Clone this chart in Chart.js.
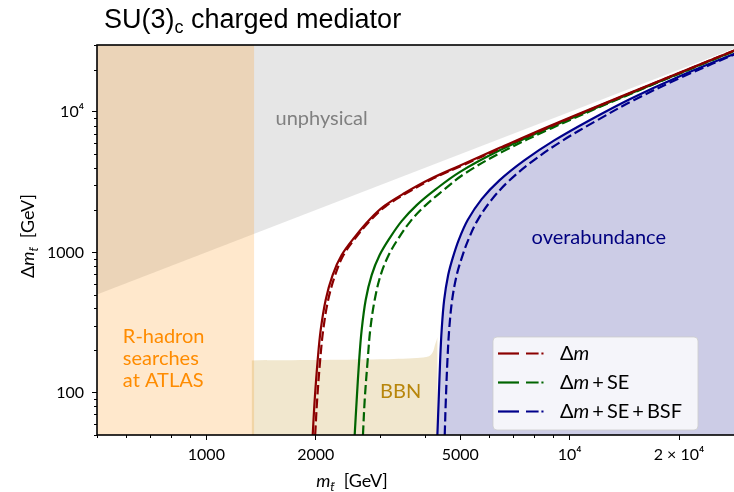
<!DOCTYPE html>
<html><head><meta charset="utf-8">
<script src="https://cdn.jsdelivr.net/npm/chart.js@4.4.0/dist/chart.umd.min.js"></script>
<style>html,body{margin:0;padding:0;overflow:hidden;background:#fff;}canvas{display:block;}</style>
</head><body>
<canvas id="c" width="748" height="492" style="width:748px;height:492px"></canvas>
<script>
// ---- axis ranges & ticks ----
const X_MIN = 500, X_MAX = 30000, Y_MIN = 50, Y_MAX = 30000;
const xMajorTicks = [1000, 2000, 5000, 10000, 20000];
const xMajorLabels = ['1000', '2000', '5000', '10⁴', '2 × 10⁴'];
const xMinorTicks = [500, 600, 700, 800, 900, 3000, 4000, 6000, 7000, 8000, 9000, 30000];
const yMajorTicks = [100, 1000, 10000];
const yMajorLabels = ['100', '1000', '10⁴'];
const yMinorTicks = [50, 60, 70, 80, 90, 200, 300, 400, 500, 600, 700, 800, 900,
  2000, 3000, 4000, 5000, 6000, 7000, 8000, 9000, 20000, 30000];

// ---- curves (m in GeV, Δm in GeV) ----
const redSolidM  = [1962, 1987, 2025, 2064, 2130, 2226, 2357, 2560, 2815, 3096, 3515, 4119, 4980, 6418, 8810, 13730, 22790, 30000];
const redSolidDm = [50, 89, 171, 280, 458, 689, 957, 1285, 1715, 2149, 2647, 3314, 4141, 5553, 7952, 12790, 21780, 29070];
const redDashM   = [1993, 2018, 2057, 2097, 2164, 2262, 2385, 2585, 2835, 3116, 3537, 4145, 5011, 6458, 8865, 13730, 22790, 30000];
const redDashDm  = [50, 89, 171, 280, 458, 689, 957, 1285, 1700, 2130, 2620, 3290, 4110, 5520, 7900, 12700, 21740, 29020];

const greenSolidM  = [2560, 2593, 2634, 2676, 2745, 2851, 2999, 3196, 3448, 3793, 4250, 4980, 6418, 8810, 13730, 22790, 30000];
const greenSolidDm = [50, 89, 171, 280, 458, 689, 957, 1264, 1670, 2171, 2776, 3729, 5330, 7759, 12580, 21600, 28830];
const greenDashM   = [2698, 2728, 2780, 2825, 2906, 3018, 3176, 3382, 3650, 3990, 4443, 5140, 6540, 8925, 13730, 22790, 30000];
const greenDashDm  = [50, 89, 171, 280, 458, 689, 957, 1264, 1670, 2136, 2708, 3638, 5217, 7670, 12480, 21500, 28780];

const blueSolidM  = [4324, 4360, 4401, 4443, 4514, 4630, 4764, 4949, 5240, 5726, 6418, 7518, 9093, 11350, 14630, 20080, 30000];
const blueSolidDm = [50, 89, 171, 280, 458, 689, 910, 1223, 1698, 2395, 3270, 4540, 6299, 8742, 12340, 17980, 27540];
const blueDashM   = [4530, 4562, 4609, 4659, 4748, 4887, 5044, 5256, 5582, 6101, 6795, 7910, 9507, 11790, 15010, 20340, 30000];
const blueDashDm  = [50, 89, 171, 280, 458, 689, 910, 1223, 1698, 2375, 3217, 4466, 6197, 8600, 12140, 17690, 27310];

// ---- shaded regions ----
const unphysM = [500, 30000];
const unphysDm = [500, 30000];
const rhadM = [500, 1355];
const rhadDm = [30000, 30000];
const bbnM = [1332, 2000, 3000, 3800, 4100, 4200, 4260, 4330];
const bbnDm = [170, 171, 173, 177, 182, 195, 220, 250];

// ---- texts ----
const titleMain = 'SU(3)', titleSub = 'c', titleRest = ' charged mediator';
const legendLabels = ['Δm', 'Δm+SE', 'Δm+SE+BSF'];
const legendColors = ['#8b0000', '#006400', '#00008b'];

const pts = (xs, ys) => xs.map((v, i) => ({x: v, y: ys[i]}));
const lineDs = (label, xs, ys, color, dashed) => ({
  label, data: pts(xs, ys), showLine: true, borderColor: color, borderWidth: 2.2,
  borderDash: dashed ? [9.5, 4] : [], pointRadius: 0, fill: false, tension: 0.35
});
const fillDs = (label, xs, ys, color, fill, tension) => ({
  label, data: pts(xs, ys), showLine: true, borderColor: 'rgba(0,0,0,0)', borderWidth: 0,
  backgroundColor: color, pointRadius: 0, fill, tension: tension || 0
});

function drawSegs(ctx, segs, x, y) {
  let cx = x;
  segs.forEach(s => {
    ctx.font = s.font;
    ctx.fillText(s.t, cx + (s.padL || 0), y + (s.dy || 0));
    cx += ctx.measureText(s.t).width + (s.padL || 0) + (s.padR || 0);
  });
  return cx - x;
}
function segsWidth(ctx, segs) {
  let w = 0;
  segs.forEach(s => { ctx.font = s.font; w += ctx.measureText(s.t).width + (s.padL || 0) + (s.padR || 0); });
  return w;
}
function mathSegs(label, size) {
  const segs = [];
  const up = size + 'px Lato', it = 'italic ' + size + 'px Lato';
  for (const ch of label) {
    if (ch === 'm') segs.push({t: 'm', font: it});
    else if (ch === '+') segs.push({t: '+', font: up, padL: 3, padR: 3});
    else segs.push({t: ch, font: up});
  }
  return segs;
}

const decor = {
  id: 'decor',
  afterDatasetsDraw(chart) {
    const {ctx, scales: {x, y}} = chart;
    ctx.save();
    ctx.textBaseline = 'middle';
    ctx.font = '20px Lato';
    ctx.fillStyle = '#808080'; ctx.textAlign = 'left';
    ctx.fillText('unphysical', x.getPixelForValue(1550), y.getPixelForValue(9000));
    ctx.fillStyle = '#000080'; ctx.textAlign = 'center';
    ctx.fillText('overabundance', x.getPixelForValue(12030), y.getPixelForValue(1285));
    ctx.fillStyle = '#b8860b';
    ctx.fillText('BBN', x.getPixelForValue(3426), y.getPixelForValue(102));
    ctx.fillStyle = '#ff8c00'; ctx.textAlign = 'left';
    ctx.fillText('R-hadron', x.getPixelForValue(589), y.getPixelForValue(250));
    ctx.fillText('searches', x.getPixelForValue(589), y.getPixelForValue(174));
    ctx.fillText('at ATLAS', x.getPixelForValue(589), y.getPixelForValue(123));
    ctx.restore();
  },
  afterDraw(chart) {
    const {ctx, chartArea: a, scales: {x, y}} = chart;
    ctx.save();
    // minor ticks
    ctx.strokeStyle = '#000'; ctx.lineWidth = 1;
    xMinorTicks.forEach(v => {
      const p = Math.round(x.getPixelForValue(v)) + 0.5;
      ctx.beginPath(); ctx.moveTo(p, a.bottom); ctx.lineTo(p, a.bottom + 3); ctx.stroke();
    });
    yMinorTicks.forEach(v => {
      const p = Math.round(y.getPixelForValue(v)) + 0.5;
      ctx.beginPath(); ctx.moveTo(a.left - 3, p); ctx.lineTo(a.left, p); ctx.stroke();
    });
    // frame
    ctx.lineWidth = 1.6;
    ctx.strokeRect(a.left, a.top, a.right - a.left, a.bottom - a.top);

    // legend
    const lx = 493, ly = 337, lw = 205, lh = 93;
    ctx.beginPath();
    ctx.roundRect(lx, ly, lw, lh, 4);
    ctx.fillStyle = 'rgba(255,255,255,0.8)'; ctx.fill();
    ctx.strokeStyle = 'rgba(204,204,204,0.8)'; ctx.lineWidth = 1; ctx.stroke();
    legendLabels.forEach((lab, i) => {
      const cy = ly + 16.5 + i * 29;
      ctx.strokeStyle = legendColors[i]; ctx.lineWidth = 2.2;
      ctx.setLineDash([]);
      ctx.beginPath(); ctx.moveTo(lx + 5, cy); ctx.lineTo(lx + 26, cy); ctx.stroke();
      ctx.setLineDash([12.6, 2.8]);
      ctx.beginPath(); ctx.moveTo(lx + 33, cy); ctx.lineTo(lx + 50.5, cy); ctx.stroke();
      ctx.setLineDash([]);
      ctx.fillStyle = '#000'; ctx.textBaseline = 'middle'; ctx.textAlign = 'left';
      drawSegs(ctx, mathSegs(lab, 20), lx + 67, cy);
    });

    // title
    ctx.fillStyle = '#000'; ctx.textBaseline = 'alphabetic'; ctx.textAlign = 'left';
    drawSegs(ctx, [
      {t: titleMain, font: '27px "Liberation Sans", Arial'},
      {t: titleSub, font: '18px "Liberation Sans", Arial', dy: 5},
      {t: titleRest, font: '27px "Liberation Sans", Arial'}
    ], 104, 28);

    // x axis title
    const xs = [
      {t: 'm', font: 'italic 18px Lato'},
      {t: 't\u0303', font: 'italic 12px Lato', dy: 4},
      {t: '  [GeV]', font: '18px Lato'}
    ];
    const xw = segsWidth(ctx, xs);
    drawSegs(ctx, xs, 352 - xw / 2, 487);

    // y axis title
    const ys = [
      {t: 'Δ', font: '18px Lato'},
      {t: 'm', font: 'italic 18px Lato'},
      {t: 't\u0303', font: 'italic 12px Lato', dy: 4},
      {t: '  [GeV]', font: '18px Lato'}
    ];
    const yw = segsWidth(ctx, ys);
    ctx.translate(34, 236);
    ctx.rotate(-Math.PI / 2);
    drawSegs(ctx, ys, -yw / 2, 0);
    ctx.restore();
  }
};

Chart.defaults.font.family = 'Lato';
new Chart(document.getElementById('c'), {
  type: 'scatter',
  data: {
    datasets: [
      lineDs('Δm', redSolidM, redSolidDm, '#8b0000', false),
      lineDs('Δm (dashed)', redDashM, redDashDm, '#8b0000', true),
      lineDs('Δm+SE', greenSolidM, greenSolidDm, '#006400', false),
      lineDs('Δm+SE (dashed)', greenDashM, greenDashDm, '#006400', true),
      lineDs('Δm+SE+BSF', blueSolidM, blueSolidDm, '#00008b', false),
      lineDs('Δm+SE+BSF (dashed)', blueDashM, blueDashDm, '#00008b', true),
      fillDs('overabundance', blueSolidM, blueSolidDm, 'rgba(0,0,128,0.2)', 'start', 0.35),
      fillDs('BBN', bbnM, bbnDm, 'rgba(184,134,11,0.2)', 'start', 0.3),
      fillDs('R-hadron', rhadM, rhadDm, 'rgba(255,140,0,0.2)', 'start'),
      fillDs('unphysical', unphysM, unphysDm, 'rgba(128,128,128,0.2)', 'end')
    ]
  },
  options: {
    responsive: false, animation: false, events: [],
    devicePixelRatio: 1,
    layout: {padding: {top: 45, right: 5, bottom: 0, left: 0}},
    plugins: {legend: {display: false}, tooltip: {enabled: false}},
    scales: {
      x: {
        type: 'logarithmic', min: X_MIN, max: X_MAX, position: 'bottom',
        afterBuildTicks: s => { s.ticks = xMajorTicks.map(v => ({value: v})); },
        afterFit: s => { s.height = 57; },
        ticks: {autoSkip: false, maxRotation: 0, minRotation: 0, padding: 5, color: '#000',
          font: {family: 'Lato', size: 16},
          callback: v => { const i = xMajorTicks.indexOf(v); return i >= 0 ? xMajorLabels[i] : ''; }},
        grid: {display: true, drawOnChartArea: false, drawTicks: true, tickLength: 5, color: '#000', tickColor: '#000', lineWidth: 1},
        border: {display: false}
      },
      y: {
        type: 'logarithmic', min: Y_MIN, max: Y_MAX, position: 'left',
        afterBuildTicks: s => { s.ticks = yMajorTicks.map(v => ({value: v})); },
        afterFit: s => { s.width = 97; },
        ticks: {autoSkip: false, padding: 8, color: '#000',
          font: {family: 'Lato', size: 16},
          callback: v => { const i = yMajorTicks.indexOf(v); return i >= 0 ? yMajorLabels[i] : ''; }},
        grid: {display: true, drawOnChartArea: false, drawTicks: true, tickLength: 5, color: '#000', tickColor: '#000', lineWidth: 1},
        border: {display: false}
      }
    }
  },
  plugins: [decor]
});
</script>
</body></html>
